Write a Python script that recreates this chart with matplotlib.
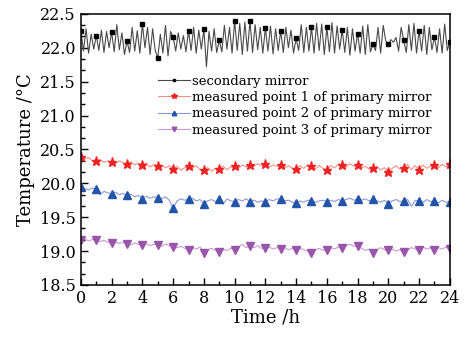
import numpy as np
import matplotlib
matplotlib.use("Agg")
import matplotlib.pyplot as plt
from matplotlib.ticker import MultipleLocator, AutoMinorLocator

# secondary mirror, sampled every 10 min (6 per hour), hourly markers
secondary = [
    22.25, 21.95, 22.28, 21.92, 22.20, 21.98,
    22.18, 21.96, 22.26, 21.93, 22.24, 22.00,
    22.23, 21.94, 22.34, 21.97, 22.22, 21.90,
    22.10, 21.93, 22.30, 21.95, 22.25, 21.92,
    22.35, 22.00, 22.30, 21.90, 22.28, 21.96,
    21.85, 22.20, 21.92, 22.33, 21.88, 22.24,
    22.16, 21.95, 22.22, 21.98, 22.18, 21.94,
    22.25, 21.96, 22.30, 21.92, 22.26, 21.98,
    22.27, 21.72, 22.24, 21.95, 22.28, 21.93,
    22.11, 21.94, 22.33, 21.98, 22.30, 21.92,
    22.40, 21.96, 22.36, 21.90, 22.38, 21.95,
    22.40, 21.93, 22.34, 21.97, 22.30, 21.92,
    22.29, 21.95, 22.32, 21.91, 22.28, 21.96,
    22.25, 21.93, 22.30, 22.00, 22.26, 21.92,
    22.14, 21.96, 22.34, 21.93, 22.30, 21.95,
    22.30, 21.92, 22.36, 21.96, 22.35, 21.90,
    22.30, 21.94, 22.37, 21.92, 22.32, 21.98,
    22.26, 21.93, 22.30, 21.89, 22.28, 21.95,
    22.21, 21.92, 22.32, 21.90, 22.34, 21.94,
    22.05, 21.96, 22.30, 21.92, 22.33, 22.10,
    22.05, 22.12, 22.08, 22.15, 21.95, 22.30,
    22.11, 21.93, 22.34, 21.96, 22.36, 21.92,
    22.25, 21.95, 22.33, 21.90, 22.30, 21.97,
    22.16, 21.93, 22.28, 21.92, 22.35, 21.96,
    22.09,
]

# primary mirror points, sampled every 15 min (4 per hour)
point1 = [
    20.39, 20.36, 20.38, 20.33,  20.33, 20.35, 20.31, 20.33,
    20.31, 20.29, 20.33, 20.30,  20.28, 20.32, 20.27, 20.30,
    20.27, 20.30, 20.24, 20.28,  20.25, 20.27, 20.23, 20.26,
    20.21, 20.25, 20.19, 20.23,  20.25, 20.22, 20.26, 20.20,
    20.20, 20.23, 20.18, 20.22,  20.21, 20.25, 20.20, 20.24,
    20.25, 20.22, 20.27, 20.24,  20.27, 20.25, 20.29, 20.26,
    20.28, 20.24, 20.27, 20.25,  20.27, 20.23, 20.26, 20.22,
    20.21, 20.26, 20.22, 20.27,  20.25, 20.21, 20.26, 20.22,
    20.20, 20.26, 20.23, 20.28,  20.27, 20.24, 20.29, 20.25,
    20.27, 20.23, 20.25, 20.21,  20.22, 20.25, 20.20, 20.23,
    20.17, 20.22, 20.26, 20.21,  20.22, 20.28, 20.20, 20.26,
    20.20, 20.27, 20.22, 20.25,  20.27, 20.23, 20.28, 20.24,
    20.28,
]

point2 = [
    19.95, 19.92, 19.90, 19.93,  19.91, 19.83, 19.88, 19.86,
    19.84, 19.87, 19.83, 19.85,  19.82, 19.84, 19.80, 19.82,
    19.77, 19.81, 19.78, 19.80,  19.79, 19.77, 19.80, 19.75,
    19.63, 19.74, 19.77, 19.75,  19.765, 19.78, 19.74, 19.76,
    19.70, 19.74, 19.76, 19.73,  19.765, 19.69, 19.77, 19.74,
    19.73, 19.76, 19.74, 19.77,  19.73, 19.75, 19.72, 19.74,
    19.73, 19.76, 19.74, 19.77,  19.765, 19.74, 19.75, 19.72,
    19.71, 19.74, 19.72, 19.75,  19.74, 19.72, 19.74, 19.75,
    19.73, 19.75, 19.73, 19.76,  19.74, 19.76, 19.78, 19.75,
    19.77, 19.75, 19.77, 19.74,  19.765, 19.74, 19.72, 19.75,
    19.70, 19.74, 19.76, 19.73,  19.74, 19.76, 19.66, 19.75,
    19.74, 19.72, 19.76, 19.73,  19.74, 19.71, 19.75, 19.72,
    19.73,
]

point3 = [
    19.17, 19.18, 19.15, 19.17,  19.16, 19.14, 19.16, 19.13,
    19.12, 19.14, 19.11, 19.13,  19.11, 19.09, 19.12, 19.10,
    19.09, 19.11, 19.08, 19.10,  19.09, 19.07, 19.10, 19.08,
    19.06, 19.05, 19.07, 19.04,  19.02, 19.05, 19.03, 19.06,
    18.97, 19.02, 19.04, 19.01,  18.99, 19.03, 19.01, 19.04,
    19.02, 19.06, 19.10, 19.05,  19.07, 19.05, 19.08, 19.04,
    19.04, 19.06, 19.03, 19.05,  19.03, 19.05, 19.02, 19.04,
    19.01, 19.04, 19.02, 19.00,  18.97, 19.02, 19.04, 19.01,
    19.01, 19.05, 19.03, 19.06,  19.04, 19.08, 19.10, 19.07,
    19.07, 19.04, 19.01, 19.03,  18.97, 19.02, 19.05, 19.02,
    19.01, 19.03, 19.00, 19.02,  18.98, 19.02, 19.05, 19.03,
    19.02, 19.06, 19.03, 19.05,  19.02, 19.05, 19.03, 19.06,
    19.03,
]

labels = ["secondary mirror",
          "measured point 1 of primary mirror",
          "measured point 2 of primary mirror",
          "measured point 3 of primary mirror"]

t_sec = np.arange(len(secondary)) / 6.0
t_pri = np.arange(len(point1)) / 4.0

plt.rcParams['font.family'] = ['DejaVu Serif']

fig = plt.figure(figsize=(4.76, 3.38), dpi=100)
ax = fig.add_axes([0.170, 0.157, 0.775, 0.802])

ax.plot(t_sec, secondary, color='#4a4a4a', lw=0.8, marker='s', ms=3.3,
        mfc='black', mec='black', markevery=6, label=labels[0])
ax.plot(t_pri, point1, color='#f59080', lw=0.8, marker='*', ms=6.5,
        mfc='#ee2222', mec='#ee2222', markevery=4, label=labels[1])
ax.plot(t_pri, point2, color='#8898d8', lw=0.8, marker='^', ms=5.5,
        mfc='#2255aa', mec='#2255aa', markevery=4, label=labels[2])
ax.plot(t_pri, point3, color='#cc99d8', lw=0.8, marker='v', ms=5.5,
        mfc='#9955aa', mec='#9955aa', markevery=4, label=labels[3])

ax.set_xlim(0, 24)
ax.set_ylim(18.5, 22.5)
ax.xaxis.set_major_locator(MultipleLocator(2))
ax.xaxis.set_minor_locator(MultipleLocator(1))
ax.yaxis.set_major_locator(MultipleLocator(0.5))
ax.yaxis.set_minor_locator(AutoMinorLocator(3))
ax.yaxis.set_major_formatter(plt.FormatStrFormatter('%.1f'))
ax.tick_params(which='both', direction='in', top=False, right=False,
               labelsize=11.5, width=1.0)
ax.tick_params(which='major', length=5)
ax.tick_params(which='minor', length=3)
for s in ax.spines.values():
    s.set_linewidth(1.1)

ax.set_xlabel('Time /h', fontsize=13, labelpad=1)
ax.set_ylabel('Temperature /\u00b0C', fontsize=13, labelpad=4)

ax.legend(loc='upper left', bbox_to_anchor=(0.195, 0.795), frameon=False,
          fontsize=9.5, handlelength=2.4, handletextpad=0.15,
          labelspacing=0.25, borderaxespad=0, markerscale=0.6)

fig.savefig('out.png', dpi=100)
